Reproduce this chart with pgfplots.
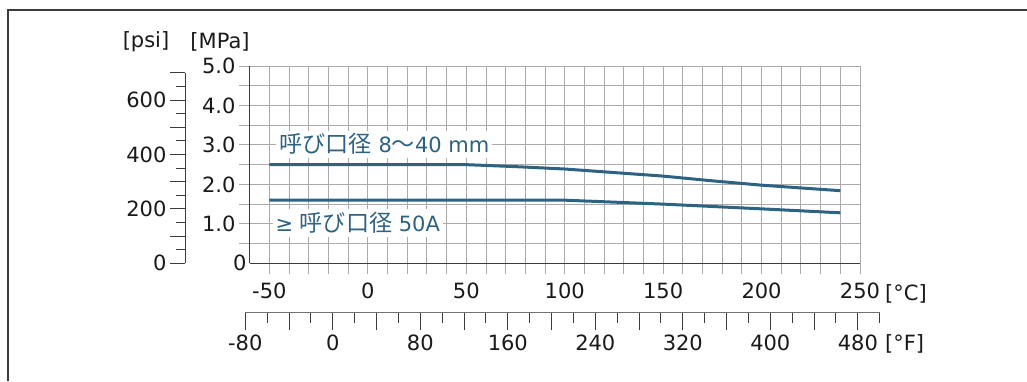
\documentclass[border=0pt]{standalone}
\usepackage{pgfplots}
\usepackage{pgfplotstable}
\pgfplotsset{compat=1.18}
\usepackage{fontspec}
\setmainfont{DejaVu Sans}
\newfontfamily\cjk[Scale=1.1]{Noto Sans CJK JP}
\definecolor{curve}{RGB}{44,98,130}
\definecolor{gridc}{RGB}{170,170,170}
\definecolor{axc}{RGB}{60,60,60}
\pgfplotsset{every axis/.append style={font=\fontsize{21}{25}\selectfont}}
\pgfplotstableread{
x y
-50 2.5
50 2.5
75 2.45
100 2.39
125 2.30
150 2.21
175 2.09
200 1.98
220 1.91
240 1.84
}\upperdata
\pgfplotstableread{
x y
-50 1.6
100 1.6
125 1.55
150 1.5
175 1.44
200 1.38
220 1.33
240 1.28
}\lowerdata
\begin{document}
\begin{tikzpicture}
\useasboundingbox (0,0) rectangle (1027pt,-381pt);
\draw[axc, line width=2pt] (8pt,-381pt) -- (8pt,-10pt) -- (1028pt,-10pt);
% main axis
\begin{axis}[
  at={(249.7pt,-263.3pt)}, anchor=south west,
  scale only axis, width=610.3pt, height=197.3pt,
  xmin=-60, xmax=250, ymin=0, ymax=5,
  axis lines=left, axis line style={-, axc, line width=1.2pt},
  xtick={-50,0,...,250}, minor xtick={-40,-30,...,240},
  xticklabels={-50,0,50,100,150,200,250},
  ytick={1,2,...,5}, minor ytick={0.5,1.5,...,4.5},
  yticklabels={1.0,2.0,3.0,4.0,5.0},
  extra y ticks={0}, extra y tick labels={0},
  extra y tick style={major tick length=0pt, grid=none},
  grid=both, grid style={gridc, line width=0.9pt},
  minor grid style={gridc, line width=0.9pt},
  tick align=outside, major tick length=11pt, minor tick length=11pt,
  every tick/.style={gridc, line width=0.9pt},
  xticklabel style={yshift=-5pt, text=black!90},
  yticklabel style={inner xsep=3pt, text=black!90},
  clip=false,
]
\addplot[curve, line width=3pt] table[x=x,y=y] {\upperdata};
\addplot[curve, line width=3pt] table[x=x,y=y] {\lowerdata};
\node[anchor=west, fill=white, inner sep=3pt, text=curve] at (axis cs:-46.5,3.02) {{\cjk 呼び口径} 8{\cjk ～}40 mm};
\node[anchor=west, fill=white, inner sep=3pt, text=curve] at (axis cs:-48.5,1.02) {≥ {\cjk 呼び口径} 50A};
\end{axis}
% psi axis
\begin{axis}[
  at={(185pt,-263.3pt)}, anchor=south west,
  scale only axis, width=10pt, height=190.45pt,
  xmin=0, xmax=1, ymin=0, ymax=700,
  axis y line=left, axis x line=none,
  axis line style={-, axc, line width=1pt},
  ytick={0,100,...,700}, minor ytick={50,150,...,650},
  yticklabels={0,,200,,400,,600,},
  tick align=outside, major tick length=15pt, minor tick length=9pt,
  every tick/.style={axc, line width=1pt},
  yticklabel style={text=black!90},
]
\end{axis}
% F axis
\begin{axis}[
  at={(245.3pt,-312.7pt)}, anchor=south west,
  scale only axis, width=634.4pt, height=10pt,
  xmin=-80, xmax=500, ymin=0, ymax=1,
  axis x line=bottom, axis y line=none,
  axis line style={-, black!55, line width=1.3pt},
  xtick={-80,-40,...,480}, minor xtick={-60,-20,...,500},
  xticklabels={-80,,0,,80,,160,,240,,320,,400,,480},
  tick align=outside, major tick length=17pt, minor tick length=10pt,
  every tick/.style={axc, line width=1pt},
  xticklabel style={yshift=-2pt, text=black!90},
]
\end{axis}
\node[font=\fontsize{21}{25}\selectfont, text=black!90] at (146pt,-42pt) {[psi]};
\node[font=\fontsize{21}{25}\selectfont, text=black!90] at (220pt,-42pt) {[MPa]};
\node[font=\fontsize{21}{25}\selectfont, text=black!90, anchor=west, inner sep=0pt] at (885pt,-294pt) {[°C]};
\node[font=\fontsize{21}{25}\selectfont, text=black!90, anchor=west, inner sep=0pt] at (885pt,-344pt) {[°F]};
\end{tikzpicture}
\end{document}
